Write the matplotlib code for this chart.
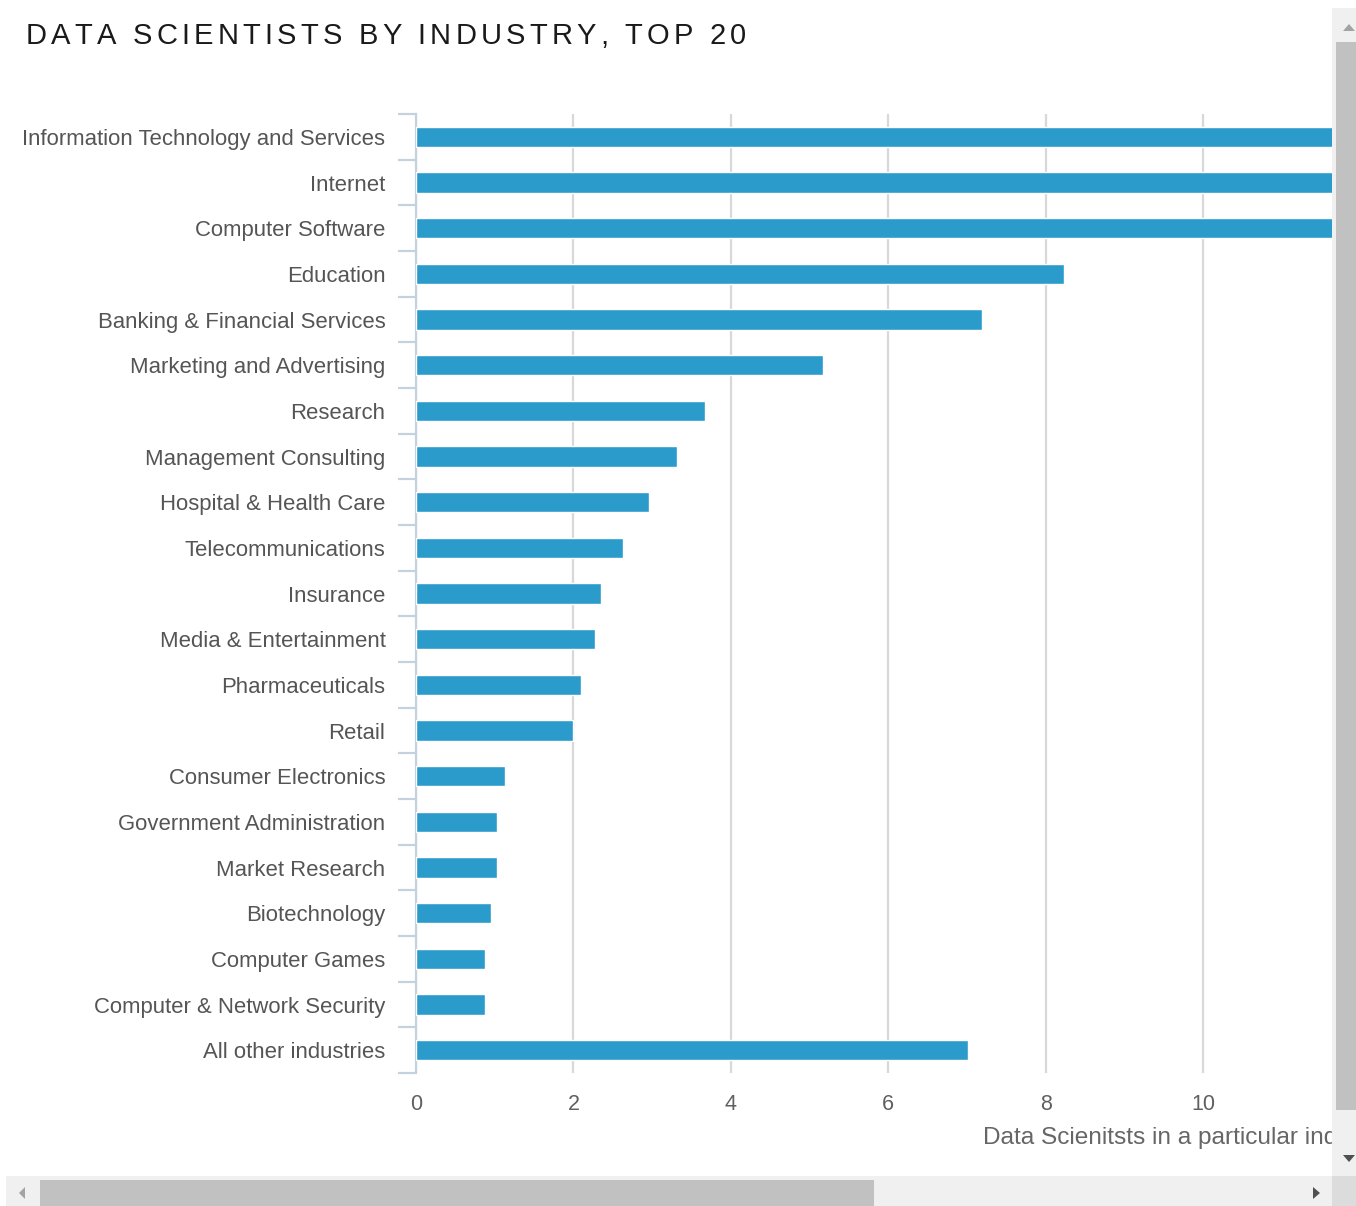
import matplotlib
matplotlib.use("Agg")
import matplotlib.pyplot as plt
from matplotlib.patches import Rectangle, Polygon
from matplotlib.font_manager import findfont, FontProperties
from matplotlib.ft2font import FT2Font

plt.rcParams["font.family"] = ["Liberation Sans", "DejaVu Sans"]

# ---- data -------------------------------------------------------------
industries = [
    "Information Technology and Services",
    "Internet",
    "Computer Software",
    "Education",
    "Banking & Financial Services",
    "Marketing and Advertising",
    "Research",
    "Management Consulting",
    "Hospital & Health Care",
    "Telecommunications",
    "Insurance",
    "Media & Entertainment",
    "Pharmaceuticals",
    "Retail",
    "Consumer Electronics",
    "Government Administration",
    "Market Research",
    "Biotechnology",
    "Computer Games",
    "Computer & Network Security",
    "All other industries",
]
share = [17.5, 14.9, 12.7, 8.23, 7.19, 5.17, 3.67, 3.32, 2.96, 2.63, 2.35,
         2.27, 2.10, 1.99, 1.13, 1.03, 1.03, 0.95, 0.88, 0.88, 7.01]
x_ticks = [0, 2, 4, 6, 8, 10]
title = "DATA SCIENTISTS BY INDUSTRY, TOP 20"
x_title = "Data Scienitsts in a particular industry"

# ---- figure -----------------------------------------------------------
W, H = 1356, 1206
fig = plt.figure(figsize=(W / 100, H / 100), dpi=100)
fig.patch.set_facecolor("white")


def fx(px):
    return px / W


def fy(py):
    return 1 - py / H


# plot area (the visible part of a wider, horizontally scrolled chart)
left, right, top, bottom = 416, 1332, 114, 1073
ax = fig.add_axes([fx(left), fy(bottom), fx(right - left), (bottom - top) / H])
px_per_unit = (1203 - 416) / 10.0
ax.set_xlim(0, (right - left) / px_per_unit)
n = len(industries)
ax.set_ylim(n - 0.5, -0.5)

bar_color = "#2b9bcc"
ax.barh(range(n), share, height=0.44, color=bar_color,
        edgecolor="white", linewidth=1.0, zorder=3)

ax.set_xticks(x_ticks)
ax.set_xticklabels([str(t) for t in x_ticks])
ax.set_yticks(range(n))
ax.set_yticklabels(industries)
ax.set_yticks([i + 0.5 for i in range(-1, n)], minor=True)

ax.grid(axis="x", color="#d8d8d8", linewidth=1.6, zorder=0)
ax.grid(axis="y", visible=False)
for s in ["top", "right", "bottom"]:
    ax.spines[s].set_visible(False)
axis_col = "#c4d2e0"
ax.spines["left"].set_color(axis_col)
ax.spines["left"].set_linewidth(1.6)

ax.tick_params(axis="y", which="major", length=0, pad=22, labelsize=15.9,
               labelcolor="#555555")
ax.tick_params(axis="y", which="minor", length=13, width=1.6, color=axis_col)
ax.tick_params(axis="x", length=0, pad=15, labelsize=15.5, labelcolor="#606060")

# x-axis title, partly hidden behind the scrollbar
fig.text(fx(983), fy(1138), x_title, ha="left", va="center", fontsize=17.6,
         color="#666666")

# ---- letter-spaced chart title ----------------------------------------
tsize = 21
font = FT2Font(findfont(FontProperties(family="Liberation Sans")))
font.set_size(tsize, 100)
adv = [font.load_char(ord(c)).linearHoriAdvance / 65536.0 for c in title]
x_start, x_end = 26, 746
last_w = adv[-1]
tracking = (x_end - x_start - sum(adv[:-1]) - last_w) / (len(title) - 1)
xpos = x_start
for c, a in zip(title, adv):
    fig.text(fx(xpos), fy(44), c, ha="left", va="baseline", fontsize=tsize,
             color="#1a1a1a")
    xpos += a + tracking

# ---- scrollbars ---------------------------------------------------------
def rect(x0, y0, x1, y1, color, z=10):
    fig.patches.append(Rectangle((fx(x0), fy(y1)), fx(x1 - x0), (y1 - y0) / H,
                                 transform=fig.transFigure, facecolor=color,
                                 edgecolor="none", zorder=z))


def tri(points, color):
    fig.patches.append(Polygon([(fx(x), fy(y)) for x, y in points], closed=True,
                               transform=fig.transFigure, facecolor=color,
                               edgecolor="none", zorder=12))


# vertical
rect(1332, 8, 1356, 1176, "#f0f0f0")
rect(1336, 42, 1356, 1110, "#c1c1c1", z=11)
tri([(1343, 31), (1355, 31), (1349, 24)], "#a3a3a3")
tri([(1343, 1155), (1355, 1155), (1349, 1162)], "#505050")
# horizontal
rect(6, 1176, 1332, 1206, "#f0f0f0")
rect(40, 1180, 874, 1206, "#c1c1c1", z=11)
tri([(25, 1187), (25, 1199), (19, 1193)], "#a3a3a3")
tri([(1313, 1187), (1313, 1199), (1320, 1193)], "#505050")
# corner
rect(1332, 1176, 1356, 1206, "#dcdcdc")

fig.savefig("out.png", dpi=100, facecolor="white")
